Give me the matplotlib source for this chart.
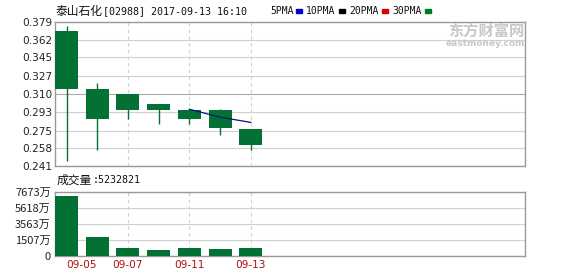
import numpy as np
import pandas as pd
import matplotlib
matplotlib.use("Agg")
import matplotlib.pyplot as plt

plt.rcParams["font.family"] = ["Noto Sans CJK SC", "DejaVu Sans"]

# daily candles, 7 trading days
dates = ["09-05", "09-06", "09-07", "09-08", "09-11", "09-12", "09-13"]
opens = [0.370, 0.315, 0.310, 0.300, 0.295, 0.295, 0.276]
closes = [0.315, 0.286, 0.295, 0.295, 0.286, 0.277, 0.261]
highs = [0.375, 0.321, 0.310, 0.300, 0.296, 0.296, 0.276]
lows = [0.246, 0.256, 0.286, 0.281, 0.281, 0.271, 0.256]
volumes = [7160, 1920, 475, 220, 475, 347, 523]  # 万股

price_ticks = [0.241, 0.258, 0.275, 0.293, 0.310, 0.327, 0.345, 0.362, 0.379]
vol_ticks = [-547, 1507, 3563, 5618, 7673]
vol_labels = ["0", "1507万", "3563万", "5618万", "7673万"]
label_days = ["09-05", "09-07", "09-11", "09-13"]

GREEN = "#027133"
GRID = "#d0d0d0"
BORDER = "#999999"
MONO = "DejaVu Sans Mono"

df = pd.DataFrame({"open": opens, "close": closes, "high": highs, "low": lows, "vol": volumes})
df["ma5"] = df["close"].rolling(5).mean()
x = np.arange(len(df))
xlim = (-0.375, 14.93)

fig = plt.figure(figsize=(5.78, 2.76), dpi=100)
ax = fig.add_axes([55 / 578, 1 - 166 / 276, 470 / 578, 144 / 276])
axv = fig.add_axes([55 / 578, 1 - 256.3 / 276, 470 / 578, 64.6 / 276])

# price panel
for t in price_ticks:
    ax.axhline(t, color="#aaaaaa" if t == 0.310 else GRID, lw=0.8, zorder=0)
for d in label_days[1:]:
    i = dates.index(d)
    ax.axvline(i, color=GRID, lw=0.8, ls=(0, (3, 3)), zorder=0)
    axv.axvline(i, color=GRID, lw=0.8, ls=(0, (3, 3)), zorder=0)

for i, r in df.iterrows():
    ax.vlines(i, r["low"], r["high"], color=GREEN, lw=1, zorder=2)
    ax.bar(i, r["open"] - r["close"], bottom=r["close"], width=0.75, color=GREEN, zorder=3)
ax.plot(x, df["ma5"], color="#101080", lw=0.9, zorder=4)

ax.set_xlim(*xlim)
ax.set_ylim(price_ticks[0], price_ticks[-1])
ax.set_yticks(price_ticks)
ax.set_yticklabels([f"{t:.3f}" for t in price_ticks], family="DejaVu Sans", fontsize=7.6, color="#222222")
ax.set_xticks([])
ax.tick_params(axis="y", length=0, pad=2)
for s in ax.spines.values():
    s.set_color(BORDER)
    s.set_linewidth(1)

# volume panel
for t in vol_ticks:
    axv.axhline(t, color=GRID, lw=0.8, zorder=0)
axv.bar(x, np.array(volumes) - vol_ticks[0], bottom=vol_ticks[0], width=0.75, color=GREEN, zorder=3)
axv.set_xlim(*xlim)
axv.set_ylim(vol_ticks[0], vol_ticks[-1])
axv.set_yticks(vol_ticks)
axv.set_yticklabels(vol_labels, fontsize=8, color="#222222")
axv.set_xticks([dates.index(d) for d in label_days])
axv.set_xticklabels(label_days, family="DejaVu Sans", fontsize=7.6, color="#b01010")
axv.get_xticklabels()[0].set_horizontalalignment("left")
axv.tick_params(length=0, pad=3)
for s in axv.spines.values():
    s.set_color(BORDER)
    s.set_linewidth(1)

# header texts
fig.text(56 / 578, 1 - 11 / 276, "泰山石化", fontsize=8.5, va="center", color="#111111")
fig.text(103 / 578, 1 - 11 / 276, "[02988] 2017-09-13 16:10", family=MONO, fontsize=7.2,
         va="center", color="#111111")
legend = [("5PMA", "#0000cc", 270, 296), ("10PMA", "#000000", 306, 339),
          ("20PMA", "#dd0000", 349, 382), ("30PMA", "#007a20", 392, 425)]
for name, col, px, bx in legend:
    fig.text(px / 578, 1 - 11 / 276, name, family=MONO, fontsize=7.0, va="center", color="#111111")
    fig.patches.append(plt.Rectangle((bx / 578, 1 - 12.5 / 276), 5.5 / 578, 3 / 276,
                                     transform=fig.transFigure, color=col))
fig.text(57 / 578, 1 - 180 / 276, "成交量", fontsize=8.5, va="center", color="#111111")
fig.text(93 / 578, 1 - 180 / 276, ":5232821", family=MONO, fontsize=7.2, va="center", color="#111111")

# watermark
fig.text(524 / 578, 1 - 31 / 276, "东方财富网", fontsize=11, ha="right", va="center", color="#c8c8c8", weight="bold")
fig.text(525 / 578, 1 - 43 / 276, "eastmoney.com", fontsize=6.5, ha="right", va="center", color="#c8c8c8",
         family="DejaVu Sans", weight="bold")

fig.savefig("out.png", dpi=100)
